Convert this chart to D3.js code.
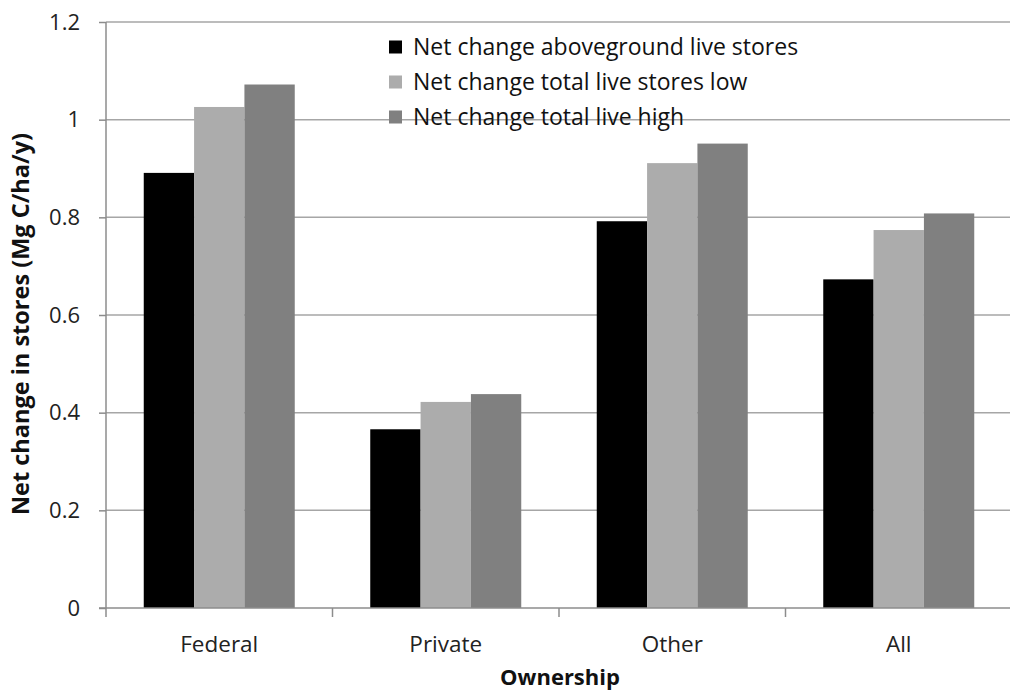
<!DOCTYPE html>
<html><head><meta charset="utf-8">
<script src="https://cdn.jsdelivr.net/npm/d3@7"></script>
<style>body{margin:0;background:#fff}svg{display:block}text{font-family:"Open Sans","Liberation Sans",sans-serif}</style>
</head><body>
<svg id="c" width="1010" height="691"></svg>
<script>
const categories = ["Federal","Private","Other","All"];
const seriesNames = ["Net change aboveground live stores","Net change total live stores low","Net change total live high"];
const aboveground = [0.891, 0.366, 0.792, 0.673];
const totalLow = [1.026, 0.422, 0.911, 0.774];
const totalHigh = [1.072, 0.438, 0.951, 0.808];
const yTicks = [0, 0.2, 0.4, 0.6, 0.8, 1, 1.2];
const colors = ["#000000", "#acacac", "#808080"];

(function () {
const series = [aboveground, totalLow, totalHigh];
const svg = d3.select("#c");
const mLeft = 106, mRight = 1012, mTop = 22, mBottom = 608;
const x = d3.scaleBand().domain(categories).range([mLeft, mRight]).paddingInner(0).paddingOuter(0);
const inner = d3.scaleBand().domain(d3.range(3)).range([0, x.bandwidth()]).paddingInner(0).paddingOuter(0.75);
const y = d3.scaleLinear().domain([0, 1.2]).range([mBottom, mTop]);

// gridlines
svg.append("g").selectAll("line").data(yTicks.slice(1)).join("line")
  .attr("x1", mLeft).attr("x2", 1010).attr("y1", d => y(d)).attr("y2", d => y(d))
  .attr("stroke", "#a6a6a6").attr("stroke-width", 1.5);

// bars
categories.forEach((c, i) => {
  series.forEach((s, j) => {
    svg.append("rect")
      .attr("x", x(c) + inner(j)).attr("width", inner.bandwidth())
      .attr("y", y(s[i])).attr("height", y(0) - y(s[i]))
      .attr("fill", colors[j]);
  });
});

// y axis
const yAxis = d3.axisLeft(y).tickValues(yTicks).tickSize(7).tickPadding(19)
  .tickFormat(d => d === 0 ? "0" : (d === 1 ? "1" : d3.format(".1f")(d)));
const ya = svg.append("g").attr("transform", `translate(${mLeft},0)`).call(yAxis);
ya.select(".domain").attr("stroke", "#8c8c8c").attr("stroke-width", 1.5).attr("d", `M0,${mTop}V${mBottom}`);
ya.selectAll(".tick line").attr("stroke", "#8c8c8c").attr("stroke-width", 1.5);
ya.selectAll(".tick text").attr("font-size", 22).attr("fill", "#222").style("font-family", '"Open Sans",sans-serif');

// x axis
const xa = svg.append("g").attr("transform", `translate(0,${mBottom})`);
xa.append("line").attr("x1", mLeft - 7).attr("x2", 1010).attr("y1", 0).attr("y2", 0).attr("stroke", "#8c8c8c").attr("stroke-width", 1.5);
xa.selectAll("line.t").data(categories.slice(1)).join("line").attr("class", "t")
  .attr("x1", d => x(d)).attr("x2", d => x(d)).attr("y1", 0).attr("y2", 9)
  .attr("stroke", "#8c8c8c").attr("stroke-width", 1.5);
xa.append("line").attr("x1", mLeft).attr("x2", mLeft).attr("y1", 0).attr("y2", 9).attr("stroke", "#8c8c8c").attr("stroke-width", 1.5);
xa.selectAll("text").data(categories).join("text")
  .attr("x", d => x(d) + x.bandwidth() / 2).attr("y", 44)
  .attr("text-anchor", "middle").attr("font-size", 22.5).attr("fill", "#222").text(d => d);

// axis titles
svg.append("text").attr("x", 560).attr("y", 685).attr("text-anchor", "middle")
  .attr("font-size", 22).attr("font-weight", "bold").attr("fill", "#111").text("Ownership");
svg.append("text").attr("transform", `translate(29,324) rotate(-90)`)
  .attr("text-anchor", "middle").attr("font-size", 23.5).attr("font-weight", "bold").attr("fill", "#111")
  .text("Net change in stores (Mg C/ha/y)");

// legend
const lg = svg.append("g").attr("transform", "translate(389,47)");
seriesNames.forEach((n, i) => {
  const g = lg.append("g").attr("transform", `translate(0,${i * 35})`);
  g.append("rect").attr("x", 0).attr("y", -6.5).attr("width", 13).attr("height", 13).attr("fill", colors[i]);
  g.append("text").attr("x", 24).attr("y", 8).attr("font-size", 23).attr("fill", "#111").text(n);
});
})();
</script>
</body></html>
